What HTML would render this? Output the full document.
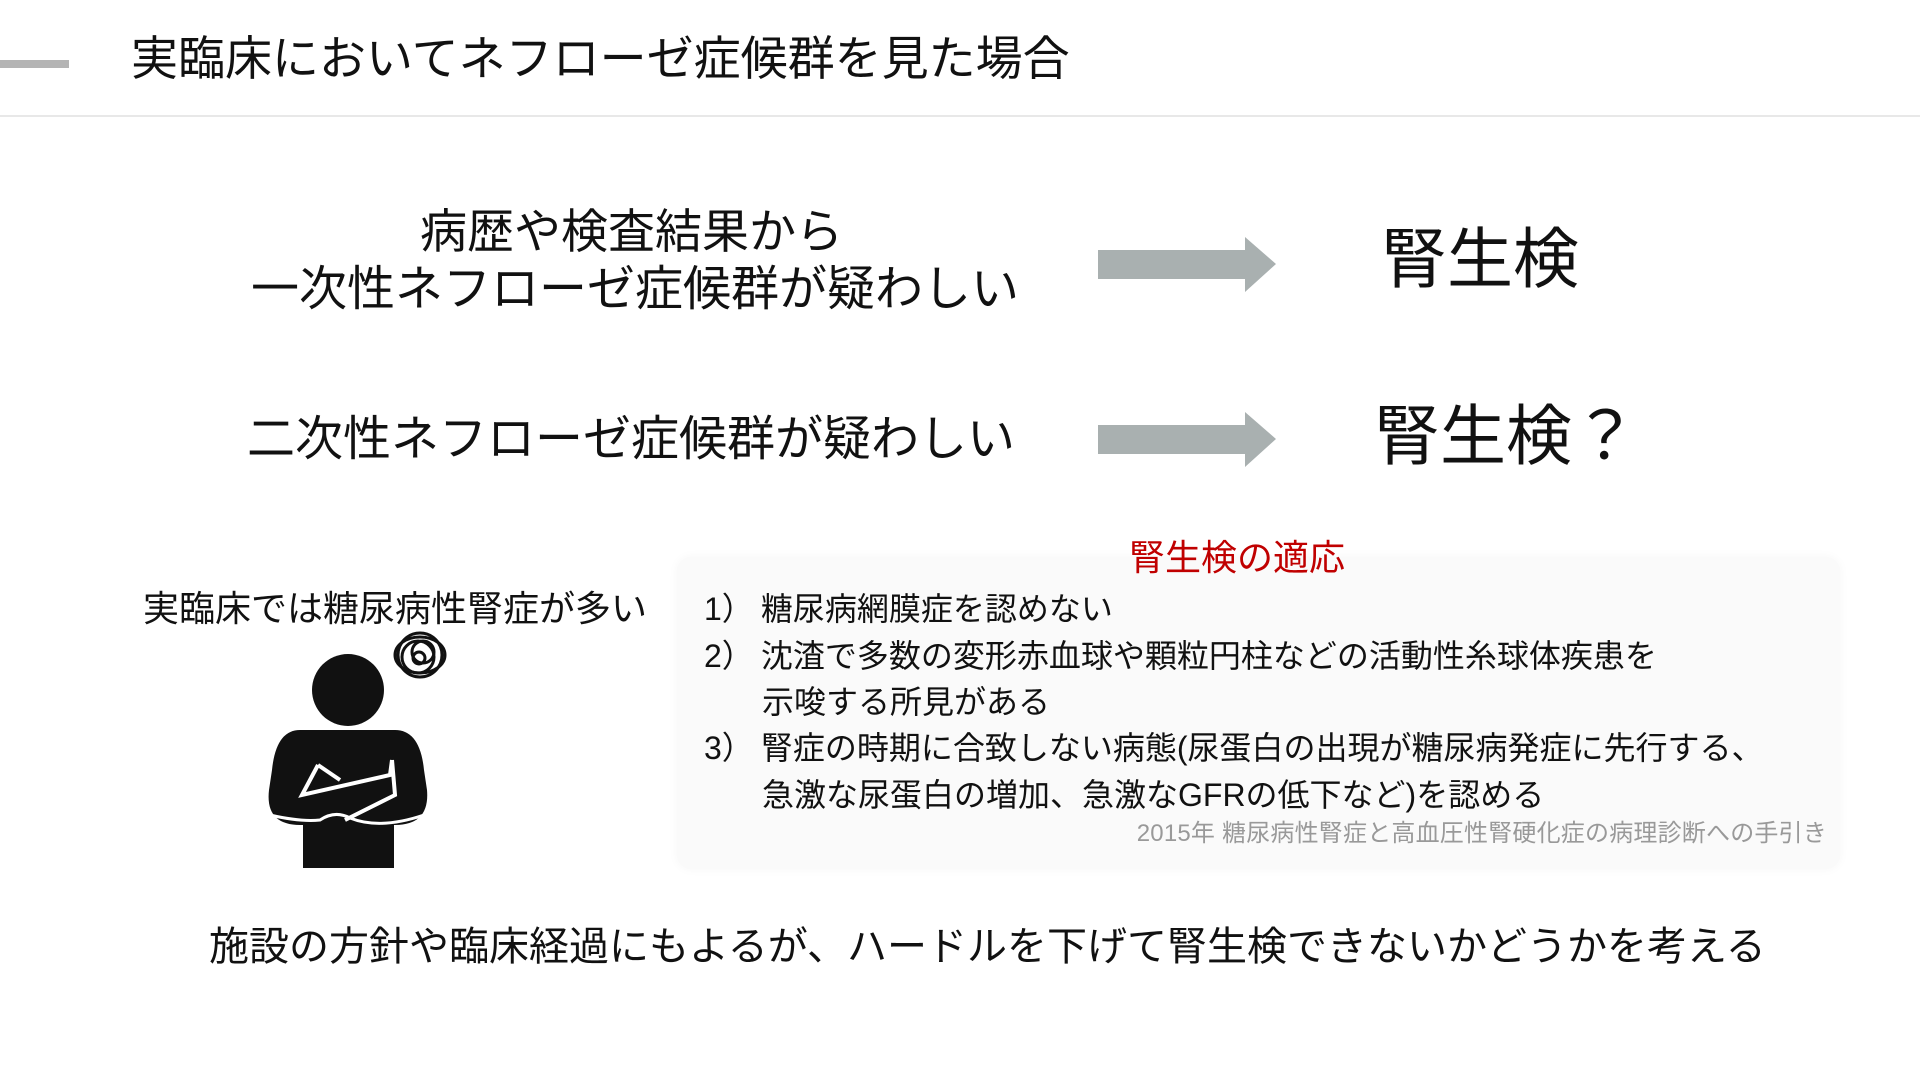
<!DOCTYPE html>
<html><head><meta charset="utf-8"><style>
body{margin:0;width:1920px;height:1080px;background:#fff;position:relative;overflow:hidden;font-family:"Liberation Sans","Noto Sans CJK JP",sans-serif;color:#111}
.t{position:absolute;white-space:nowrap;line-height:1}
.g{display:inline-block;width:7px}
</style></head><body>
<div style="position:absolute;left:0;top:60px;width:69px;height:8px;background:#b4b4b4"></div>
<div class="t" style="left:131px;top:35px;font-size:47px">実臨床においてネフローゼ症候群を見た場合</div>
<div style="position:absolute;left:0;top:115px;width:1920px;height:2px;background:#e8e8e8"></div>

<div class="t" style="left:420px;top:208px;font-size:47px">病歴や検査結果から</div>
<div class="t" style="left:251px;top:266px;font-size:48px">一次性ネフローゼ症候群が疑わしい</div>
<div class="t" style="left:247px;top:416px;font-size:48px">二次性ネフローゼ症候群が疑わしい</div>

<svg style="position:absolute;left:0;top:0" width="1920" height="1080">
<polygon points="1098,250 1245,250 1245,237 1276,264 1245,292 1245,279 1098,279" fill="#a9b0b0"/>
<polygon points="1098,425 1245,425 1245,412 1276,439 1245,467 1245,454 1098,454" fill="#a9b0b0"/>
<circle cx="348" cy="690" r="36" fill="#111"/>
<path d="M300,730 L395,730 Q420,730 424,770 L427,790 Q430,825 395,825 L300,825 Q265,825 269,790 L272,770 Q276,730 300,730 Z" fill="#111"/>
<rect x="303" y="815" width="91" height="53" fill="#111"/>
<path d="M270,815 Q300,822 320,820 Q335,810 350,818 Q380,830 424,815" stroke="#fff" stroke-width="3" fill="none"/>
<polyline points="318,765 302,795 390,775 392,760" stroke="#fff" stroke-width="4" fill="none"/>
<polyline points="318,765 340,780" stroke="#fff" stroke-width="4" fill="none"/>
<polyline points="392,760 395,795 345,820" stroke="#fff" stroke-width="4" fill="none"/>
<g stroke="#111" stroke-width="3" fill="none">
<circle cx="420" cy="655" r="22"/><circle cx="418" cy="657" r="16"/><circle cx="423" cy="652" r="11"/><circle cx="419" cy="658" r="6"/><ellipse cx="420" cy="655" rx="25" ry="18"/>
</g>
</svg>

<div class="t" style="left:1381px;top:226px;font-size:66px">腎生検</div>
<div class="t" style="left:1374px;top:403px;font-size:66px">腎生検？</div>

<div style="position:absolute;left:677px;top:557px;width:1163px;height:312px;background:#fafafa;border-radius:14px;box-shadow:0 0 10px rgba(0,0,0,0.04)"></div>
<div class="t" style="left:1129px;top:540px;font-size:36px;color:#c00000">腎生検の適応</div>
<div class="t" style="left:143px;top:591px;font-size:36px">実臨床では糖尿病性腎症が多い</div>

<div class="t" style="left:704px;top:593px;font-size:32px">1）<span class="g"></span>糖尿病網膜症を認めない</div>
<div class="t" style="left:704px;top:640px;font-size:32px">2）<span class="g"></span>沈渣で多数の変形赤血球や顆粒円柱などの活動性糸球体疾患を</div>
<div class="t" style="left:762px;top:686px;font-size:32px">示唆する所見がある</div>
<div class="t" style="left:704px;top:732px;font-size:32px">3）<span class="g"></span>腎症の時期に合致しない病態(尿蛋白の出現が糖尿病発症に先行する、</div>
<div class="t" style="left:762px;top:779px;font-size:32px">急激な尿蛋白の増加、急激なGFRの低下など)を認める</div>
<div class="t" style="right:93px;top:822px;font-size:24px;letter-spacing:0.2px;color:#999">2015年 糖尿病性腎症と高血圧性腎硬化症の病理診断への手引き</div>

<div class="t" style="left:209px;top:927px;font-size:40px">施設の方針や臨床経過にもよるが、ハードルを下げて腎生検できないかどうかを考える</div>
</body></html>
